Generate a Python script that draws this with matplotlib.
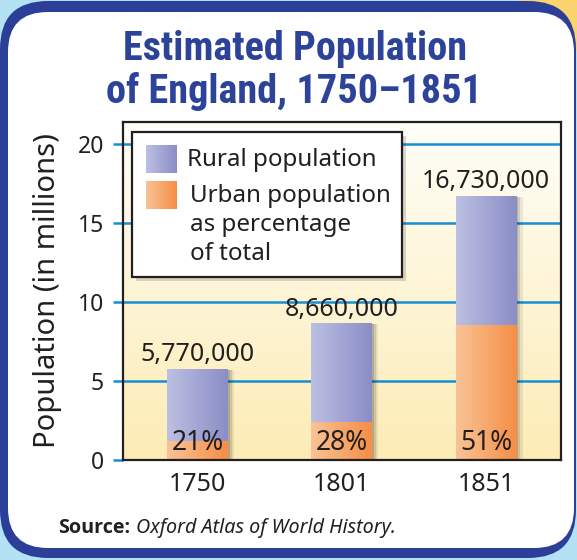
import numpy as np
import matplotlib
matplotlib.use("Agg")
import matplotlib.pyplot as plt
import matplotlib.patheffects as pe
from matplotlib import font_manager
from matplotlib.patches import FancyBboxPatch, Rectangle
from matplotlib.colors import LinearSegmentedColormap

# data
years = ["1750", "1801", "1851"]
totals = [5770000, 8660000, 16730000]
urban_pct = [21, 28, 51]
y_ticks = [0, 5, 10, 15, 20]
title_lines = ["Estimated Population", "of England, 1750\u20131851"]
legend_rural = "Rural population"
legend_urban = ["Urban population", "as percentage", "of total"]

total_m = np.array(totals) / 1e6
urban_m = total_m * np.array(urban_pct) / 100
rural_m = total_m - urban_m

W, H = 577, 560
plt.rcParams['font.family'] = ['Noto Sans', 'DejaVu Sans']
ink = '#231f20'
navy = '#2b3f98'
title_blue = '#2c4399'
grid_blue = '#1690d4'


def bold_family(cands):
    # first family that really has a bold face installed
    for fam in cands:
        for f in font_manager.fontManager.ttflist:
            w = f.weight
            if isinstance(w, str):
                w = font_manager.weight_dict.get(w, 400)
            if f.name == fam and w >= 600 and f.style == 'normal':
                return fam
    return 'DejaVu Sans'


title_sizes = {'Liberation Sans Narrow': 28.5, 'Roboto Condensed': 29, 'Roboto': 26,
               'Liberation Sans': 24.5, 'DejaVu Sans': 22}
title_font = bold_family(['Liberation Sans Narrow', 'Roboto Condensed', 'Roboto', 'Liberation Sans'])
title_size = title_sizes[title_font]
src_bold = bold_family(['Noto Sans', 'Open Sans', 'Lato', 'Liberation Sans'])

rural_cmap = LinearSegmentedColormap.from_list('rural', ['#bcc0e2', '#8b8dc6'])
urban_cmap = LinearSegmentedColormap.from_list('urban', ['#f9c396', '#f58e46'])
back_cmap = LinearSegmentedColormap.from_list('back', ['#fdecb5', '#fffef9'])
h_grad = np.linspace(0, 1, 256).reshape(1, -1)
v_grad = np.linspace(0, 1, 256).reshape(-1, 1)

fig = plt.figure(figsize=(W / 100, H / 100), dpi=100, facecolor='#b5e1f5')

# rounded panel behind everything
bg = fig.add_axes([0, 0, 1, 1], zorder=-10)
bg.set_xlim(0, W)
bg.set_ylim(H, 0)
bg.axis('off')
bg.add_patch(Rectangle((520, 0), 57, 50, color='#fbd36c'))
bg.add_patch(FancyBboxPatch((0, 1), 576, 557, boxstyle='round,pad=0,rounding_size=48',
                            fc=navy, ec='none'))
bg.add_patch(FancyBboxPatch((8, 12), 566, 536, boxstyle='round,pad=0,rounding_size=40',
                            fc='white', ec='none'))

# main chart
ax = fig.add_axes([123 / W, 100 / H, 438 / W, 338 / H])
x = np.arange(len(years))

ax.imshow(v_grad, cmap=back_cmap, extent=(0, 1, 0, 1), transform=ax.transAxes,
          aspect='auto', origin='lower', zorder=0)

ax.set_axisbelow(True)
ax.yaxis.grid(True, color=grid_blue, lw=1.8)
ax.set_yticks(y_ticks)
ax.set_xticks(x, years)
ax.tick_params(axis='y', length=7.2, width=1.8, color=grid_blue, pad=6.5,
               labelsize=16.5, labelcolor=ink)
ax.tick_params(axis='x', length=0, pad=8.5, labelsize=18, labelcolor=ink)
for s in ax.spines.values():
    s.set_color(ink)
    s.set_linewidth(1.6)

bw = 0.42
shadow = ax.bar(x, total_m, width=bw, color='k', zorder=1.8)
for b in shadow:
    b.set_path_effects([
        pe.SimplePatchShadow(offset=(1.5, -0.8), shadow_rgbFace='k', alpha=0.13),
        pe.SimplePatchShadow(offset=(3, -0.8), shadow_rgbFace='k', alpha=0.11),
        pe.SimplePatchShadow(offset=(4.5, -0.8), shadow_rgbFace='k', alpha=0.08),
    ])

urban_bars = ax.bar(x, urban_m, width=bw, color='#f7a86c', zorder=2)
rural_bars = ax.bar(x, rural_m, width=bw, bottom=urban_m, color='#a3a6d4', zorder=2)
for bars, cmap in ((urban_bars, urban_cmap), (rural_bars, rural_cmap)):
    for b in bars:
        x0, y0 = b.get_x(), b.get_y()
        im = ax.imshow(h_grad, cmap=cmap, aspect='auto',
                       extent=(x0, x0 + b.get_width(), y0, y0 + b.get_height()), zorder=2.2)
        im.set_clip_path(b)

for xi, tot, tm in zip(x, totals, total_m):
    ax.annotate(f"{tot:,}", xy=(xi, tm), xytext=(0, 5.5), textcoords='offset points',
                ha='center', va='baseline', fontsize=18, color=ink, zorder=5)
for xi, p in zip(x, urban_pct):
    ax.annotate(f"{p}%", xy=(xi, 0), xytext=(0, 7.2), textcoords='offset points',
                ha='center', va='baseline', fontsize=19, color=ink, zorder=5)

ax.set_xlim(-0.515, 2.52)
ax.set_ylim(0, 21.4)

fig.text(47 / W, 1 - 290 / H, 'Population (in millions)', rotation=90,
         ha='center', va='center', fontsize=21, color=ink)

# overlay: title, legend, source
ov = fig.add_axes([0, 0, 1, 1], zorder=5)
ov.patch.set_alpha(0)
ov.text(295, 60, title_lines[0], ha='center', va='baseline', color=title_blue,
        family=title_font, weight='bold', fontsize=title_size)
ov.text(294, 103, title_lines[1], ha='center', va='baseline', color=title_blue,
        family=title_font, weight='bold', fontsize=title_size)

ov.add_patch(Rectangle((136, 136), 270, 145, fc='k', alpha=0.15, ec='none', zorder=1))
ov.add_patch(Rectangle((132, 132), 270, 145, fc='white', ec=ink, lw=1.6, zorder=2))
ov.imshow(h_grad, cmap=rural_cmap, extent=(146, 177, 173, 145), aspect='auto', zorder=3)
ov.imshow(h_grad, cmap=urban_cmap, extent=(146, 177, 209, 181), aspect='auto', zorder=3)
ov.text(187, 166, legend_rural, va='baseline', fontsize=17.4, color=ink, zorder=4)
for i, line in enumerate(legend_urban):
    ov.text(190, 202 + 29 * i, line, va='baseline', fontsize=17.4, color=ink, zorder=4)

src = ov.text(58, 533, 'Source:', va='baseline', family=src_bold, weight='bold',
              fontsize=14.2, color=ink)
ov.annotate('Oxford Atlas of World History.', xy=(1, 0), xycoords=src, xytext=(4, 0),
            textcoords='offset points', va='bottom', ha='left', style='italic',
            fontsize=14.2, color=ink)

ov.set_xlim(0, W)
ov.set_ylim(H, 0)
ov.axis('off')

fig.savefig('out.png', dpi=100, facecolor=fig.get_facecolor())
